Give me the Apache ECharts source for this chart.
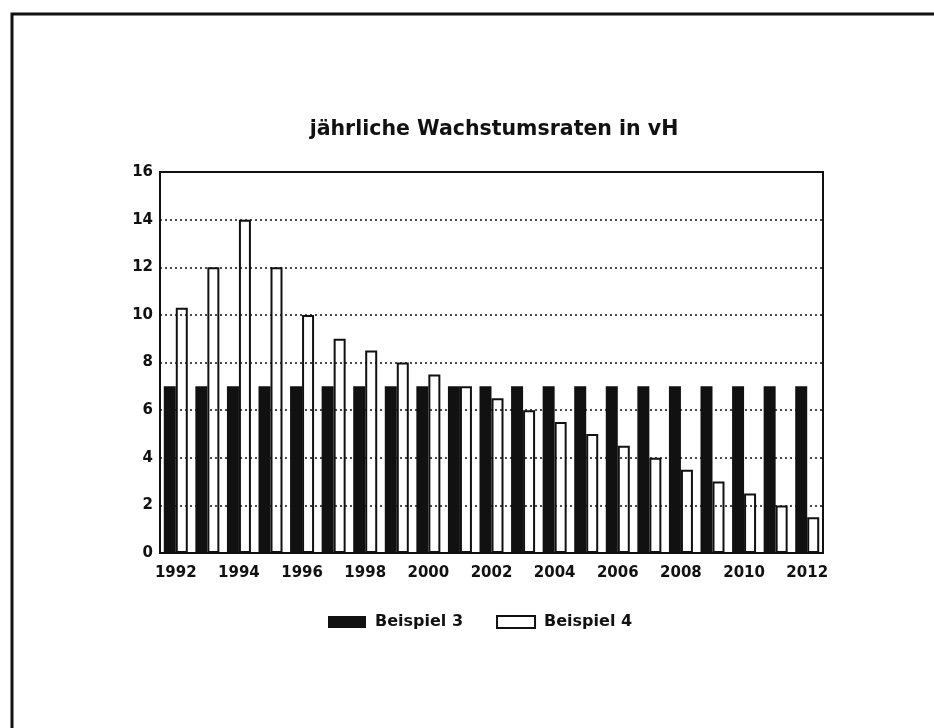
<!DOCTYPE html>
<html>
<head>
<meta charset="utf-8">
<script src="https://cdn.jsdelivr.net/npm/echarts@6/dist/echarts.min.js"></script>
<style>
  html, body { margin: 0; padding: 0; background: #fff; }
  #chart { width: 934px; height: 728px; }
</style>
</head>
<body>
<div id="chart"></div>
<script>
// Daten
const years = ['1992', '1993', '1994', '1995', '1996', '1997', '1998', '1999', '2000', '2001', '2002',
  '2003', '2004', '2005', '2006', '2007', '2008', '2009', '2010', '2011', '2012'];
const beispiel3 = [7, 7, 7, 7, 7, 7, 7, 7, 7, 7, 7, 7, 7, 7, 7, 7, 7, 7, 7, 7, 7];
const beispiel4 = [10.3, 12, 14, 12, 10, 9, 8.5, 8, 7.5, 7, 6.5, 6, 5.5, 5, 4.5, 4, 3.5, 3, 2.5, 2, 1.5];
const yTicks = [0, 2, 4, 6, 8, 10, 12, 14, 16];

const ink = '#111';
const font = 'DejaVu Sans';

const chart = echarts.init(document.getElementById('chart'));
chart.setOption({
  backgroundColor: '#fff',
  animation: false,
  title: {
    text: 'jährliche Wachstumsraten in vH',
    left: 489,
    textAlign: 'center',
    top: 114,
    textStyle: { fontFamily: font, fontSize: 20.5, fontWeight: 'bold', color: ink }
  },
  legend: {
    left: 328,
    top: 614,
    padding: 0,
    icon: 'rect',
    itemWidth: 38,
    itemHeight: 12,
    itemGap: 33,
    textStyle: { fontFamily: font, fontSize: 16, fontWeight: 'bold', color: ink, padding: [0, 0, 0, 4] },
    data: ['Beispiel 3', 'Beispiel 4']
  },
  grid: {
    left: 160,
    right: 111,
    top: 172,
    bottom: 175,
    show: true,
    borderColor: ink,
    borderWidth: 2
  },
  xAxis: {
    type: 'category',
    data: years,
    axisTick: { show: false },
    axisLine: { lineStyle: { color: ink, width: 2 } },
    axisLabel: {
      interval: 1,
      margin: 13,
      fontFamily: font,
      fontSize: 15,
      fontWeight: 'bold',
      color: ink
    }
  },
  yAxis: {
    type: 'value',
    min: yTicks[0],
    max: yTicks[yTicks.length - 1],
    interval: 2,
    axisLine: { show: true, lineStyle: { color: ink, width: 2 } },
    axisTick: { show: false },
    axisLabel: {
      margin: 7,
      fontFamily: font,
      fontSize: 15,
      fontWeight: 'bold',
      color: ink
    },
    splitLine: {
      lineStyle: { color: ink, type: [2, 3], width: 1.5 }
    }
  },
  series: [
    {
      name: 'Beispiel 3',
      type: 'bar',
      data: beispiel3,
      barWidth: 12,
      barGap: '0%',
      itemStyle: { color: ink }
    },
    {
      name: 'Beispiel 4',
      type: 'bar',
      data: beispiel4,
      barWidth: 12,
      itemStyle: { color: 'rgba(255,255,255,0)', borderColor: ink, borderWidth: 2 }
    }
  ],
  graphic: [
    {
      type: 'polyline',
      shape: { points: [[12, 728], [12, 14], [934, 14]] },
      style: { stroke: ink, lineWidth: 3, fill: null }
    }
  ]
});
</script>
</body>
</html>
